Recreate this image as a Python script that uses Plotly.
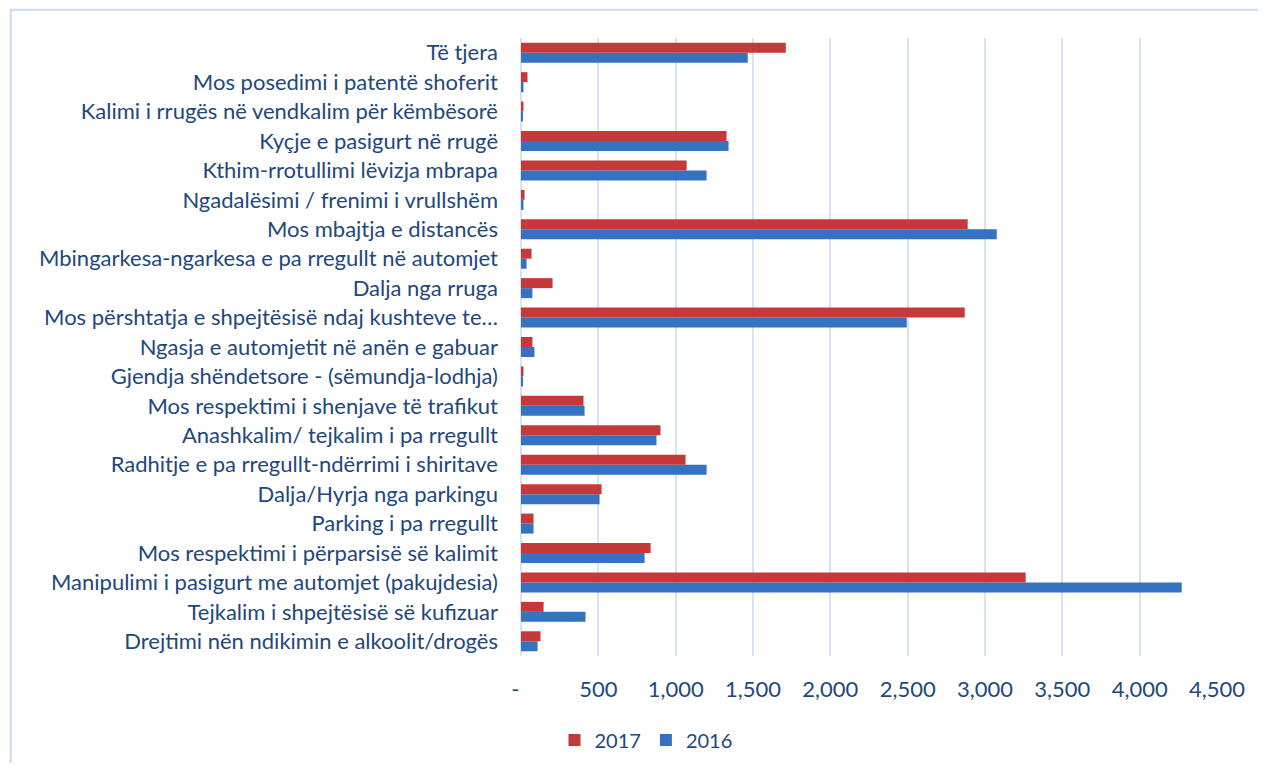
import plotly.graph_objects as go

categories = [
    "Të tjera",
    "Mos posedimi i patentë shoferit",
    "Kalimi i rrugës në vendkalim për këmbësorë",
    "Kyçje e pasigurt në rrugë",
    "Kthim-rrotullimi lëvizja mbrapa",
    "Ngadalësimi / frenimi i vrullshëm",
    "Mos mbajtja e distancës",
    "Mbingarkesa-ngarkesa e pa rregullt në automjet",
    "Dalja nga rruga",
    "Mos përshtatja e shpejtësisë ndaj kushteve te…",
    "Ngasja e automjetit në anën e gabuar",
    "Gjendja shëndetsore - (sëmundja-lodhja)",
    "Mos respektimi i shenjave të trafikut",
    "Anashkalim/ tejkalim i pa rregullt",
    "Radhitje e pa rregullt-ndërrimi i shiritave",
    "Dalja/Hyrja nga parkingu",
    "Parking i pa rregullt",
    "Mos respektimi i përparsisë së kalimit",
    "Manipulimi i pasigurt me automjet (pakujdesia)",
    "Tejkalim i shpejtësisë së kufizuar",
    "Drejtimi nën ndikimin e alkoolit/drogës",
]

values_2017 = [1712, 42, 16, 1329, 1071, 23, 2888, 68, 204, 2869, 74, 16,
               404, 902, 1064, 521, 81, 838, 3263, 146, 126]
values_2016 = [1466, 16, 10, 1342, 1200, 16, 3076, 36, 74, 2494, 87, 10,
               411, 876, 1200, 508, 81, 799, 4272, 417, 107]

tick_vals = [0, 500, 1000, 1500, 2000, 2500, 3000, 3500, 4000, 4500]
tick_text = ["-  ", "500", "1,000", "1,500", "2,000", "2,500", "3,000", "3,500", "4,000", "4,500"]

# plot from bottom to top
cats_b = categories[::-1]
v17_b = values_2017[::-1]
v16_b = values_2016[::-1]

TEXT = "#22487A"
FONT = "Lato"
FS = 22

fig = go.Figure()
fig.add_trace(go.Bar(
    y=cats_b, x=v16_b, orientation="h", name="2016",
    marker=dict(color="#3672C2", line=dict(width=0)),
))
fig.add_trace(go.Bar(
    y=cats_b, x=v17_b, orientation="h", name="2017",
    marker=dict(color="#C6393B", line=dict(width=0)),
))

# page has an 8px body margin; figure coordinates = page coordinates - 8
OFF = 8
W, H = 1250, 755
L = 520.5 - OFF
T = 38.3 - OFF
R = W - (1216.7 - OFF)
B = H - (655.7 - OFF)
pw, ph = W - L - R, H - T - B


def px_x(p):
    return (p - OFF - L) / pw


def px_y(p):
    return (H - B - (p - OFF)) / ph


FRAME = "#C9DAEE"

fig.update_layout(
    width=W, height=H,
    margin=dict(l=L, r=R, t=T, b=B, pad=0),
    paper_bgcolor="white", plot_bgcolor="white",
    barmode="group", bargap=0.32, bargroupgap=0,
    font=dict(family=FONT, size=FS, color=TEXT),
    showlegend=True,
    legend=dict(
        orientation="h", traceorder="reversed",
        x=(646 - OFF) / W, xref="container", xanchor="center",
        y=1 - (740 - OFF) / H, yref="container", yanchor="middle",
        font=dict(family=FONT, size=20, color=TEXT),
        itemwidth=30, itemsizing="constant",
        bgcolor="rgba(0,0,0,0)",
    ),
    xaxis=dict(
        range=[0, 4500], tickvals=tick_vals, ticktext=tick_text,
        showgrid=True, gridcolor="#D5E3F4", gridwidth=2,
        zeroline=True, zerolinecolor="#D5E3F4", zerolinewidth=2,
        showline=False, ticks="", ticklabelstandoff=18,
        tickfont=dict(family=FONT, size=FS, color=TEXT),
        fixedrange=True,
    ),
    yaxis=dict(
        categoryorder="array", categoryarray=cats_b,
        showgrid=False, zeroline=False, showline=False,
        ticks="", ticklabelstandoff=22,
        tickfont=dict(family=FONT, size=FS, color=TEXT),
        fixedrange=True,
    ),
    shapes=[
        dict(type="line", xref="paper", yref="paper",
             x0=px_x(10), x1=px_x(1258), y0=px_y(10), y1=px_y(10),
             line=dict(color=FRAME, width=2), layer="below"),
        dict(type="line", xref="paper", yref="paper",
             x0=px_x(10), x1=px_x(10), y0=px_y(10), y1=px_y(763),
             line=dict(color=FRAME, width=2), layer="below"),
    ],
)

fig.write_html("out.html")
